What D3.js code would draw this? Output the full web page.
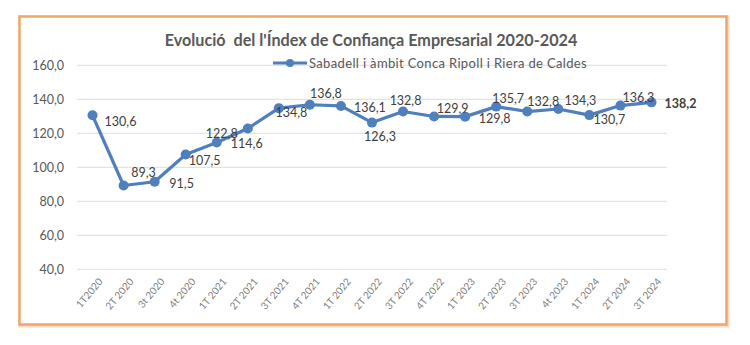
<!DOCTYPE html>
<meta charset="utf-8">
<style>
  body { margin: 0; background: #fff; }
  text { font-family: Lato, "Open Sans", sans-serif; }
</style>
<svg id="chart" width="750" height="345"></svg>
<script src="https://d3js.org/d3.v7.min.js"></script>
<script>

// data
var quarters = ["1T2020", "2T 2020", "3t 2020", "4t 2020",
                "1T 2021", "2T 2021", "3T 2021", "4T 2021",
                "1T 2022", "2T 2022", "3T 2022", "4T 2022",
                "1T 2023", "2T 2023", "3T 2023", "4t 2023",
                "1T 2024", "2T 2024", "3T 2024"];
var values = [130.6, 89.3, 91.5, 107.5,
              114.6, 122.8, 134.8, 136.8,
              136.1, 126.3, 132.8, 129.9,
              129.8, 135.7, 132.8, 134.3,
              130.7, 136.3, 138.2];
var yTicks = [40, 60, 80, 100, 120, 140, 160];
var title = "Evolució  del l'Índex de Confiança Empresarial 2020-2024";
var seriesName = "Sabadell i àmbit Conca Ripoll i Riera de Caldes";

var blue = "#4f7fbd";
var locale = d3.formatLocale({decimal: ",", thousands: ".", grouping: [3], currency: ["", "€"]});
var fmt = locale.format(".1f");

var svg = d3.select("#chart");

// orange frame
svg.append("rect")
    .attr("x", 20.5).attr("y", 17.5)
    .attr("width", 707).attr("height", 308)
    .attr("fill", "none")
    .attr("stroke", "#f3dcc6")
    .attr("stroke-width", 4);
svg.append("rect")
    .attr("x", 19.5).attr("y", 16.5)
    .attr("width", 707).attr("height", 308)
    .attr("fill", "#fff")
    .attr("stroke", "#eea768")
    .attr("stroke-width", 2.5);

var x = d3.scaleBand()
    .domain(quarters)
    .range([77, 667]);

var y = d3.scaleLinear()
    .domain([40, 160])
    .range([269.3, 65.3]);

function cx(d, i) { return x(quarters[i]) + x.bandwidth() / 2; }

// gridlines
svg.append("g")
  .selectAll("line")
  .data(yTicks)
  .join("line")
    .attr("x1", 77).attr("x2", 667)
    .attr("y1", function(d) { return y(d); })
    .attr("y2", function(d) { return y(d); })
    .attr("stroke", "#e3e3e3")
    .attr("stroke-width", 1.2);

// y axis labels
var yAxis = svg.append("g")
    .attr("transform", "translate(68,0)")
    .call(d3.axisLeft(y).tickValues(yTicks).tickFormat(fmt).tickSize(0).tickPadding(4));
yAxis.select(".domain").remove();
yAxis.selectAll("text")
    .attr("fill", "#595959")
    .style("font-size", "12.5px")
    .style("font-family", "Lato, sans-serif");

// x axis labels, rotated
var xAxis = svg.append("g")
    .attr("transform", "translate(0,272)")
    .call(d3.axisBottom(x).tickSize(0).tickPadding(0));
xAxis.select(".domain").remove();
xAxis.selectAll("text")
    .attr("fill", "#7f7f7f")
    .attr("text-anchor", "end")
    .attr("dy", "0.6em")
    .attr("transform", "translate(6,6) rotate(-50)")
    .style("font-size", "10px")
    .style("font-family", "Lato, sans-serif");

// title
svg.append("text")
    .attr("x", 371).attr("y", 46)
    .attr("text-anchor", "middle")
    .attr("fill", "#595959")
    .style("font-size", "16.2px")
    .style("font-weight", "bold")
    .style("white-space", "pre")
    .attr("xml:space", "preserve")
    .text(title);

// legend
var lg = svg.append("g").attr("transform", "translate(273,63)");
lg.append("line").attr("x1", 0).attr("x2", 34)
    .attr("stroke", blue).attr("stroke-width", 3);
lg.append("circle").attr("cx", 17).attr("r", 4).attr("fill", blue);
lg.append("text")
    .attr("x", 36).attr("y", 4.5)
    .attr("fill", "#595959")
    .style("font-size", "13px")
    .style("letter-spacing", "0.35px")
    .text(seriesName);

// series
var line = d3.line()
    .x(function(d, i) { return cx(d, i); })
    .y(function(d) { return y(d); });

svg.append("path")
    .datum(values)
    .attr("fill", "none")
    .attr("stroke", blue)
    .attr("stroke-width", 3.2)
    .attr("stroke-linejoin", "round")
    .attr("d", line);

svg.append("g")
  .selectAll("circle")
  .data(values)
  .join("circle")
    .attr("cx", cx)
    .attr("cy", function(d) { return y(d); })
    .attr("r", 5)
    .attr("fill", blue);

// data labels, placed by hand like in the original
var labelShift = [[28, 6], [20, -12.5], [27, 1.5], [19, 6.5],
                  [30, 1], [-26, 5.5], [12.5, 4], [16, -11.5],
                  [29, 2], [8, 14], [2.5, -10.5], [18.5, -8],
                  [29.5, 2], [12, -7.5], [16, -10], [22, -8],
                  [20, 5], [18, -8], [29, 1]];

svg.append("g")
  .selectAll("text")
  .data(values)
  .join("text")
    .attr("x", function(d, i) { return cx(d, i) + labelShift[i][0]; })
    .attr("y", function(d, i) { return y(d) + labelShift[i][1]; })
    .attr("dy", "0.35em")
    .attr("text-anchor", "middle")
    .attr("fill", "#404040")
    .style("font-size", "12.5px")
    .style("font-weight", function(d, i) { return i === values.length - 1 ? "bold" : "normal"; })
    .text(function(d) { return fmt(d); });

</script>
